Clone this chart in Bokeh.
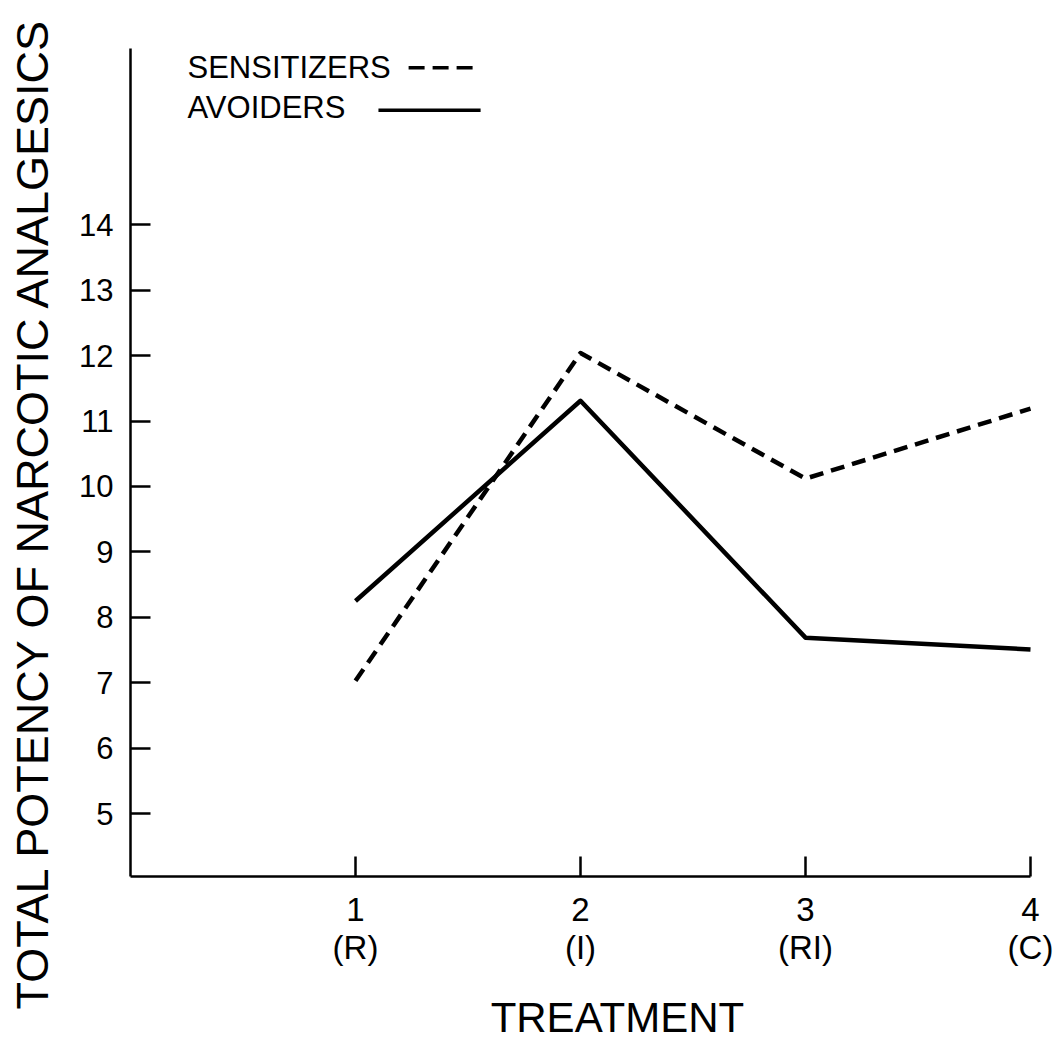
from bokeh.plotting import figure
from bokeh.models import Range1d, FixedTicker, Label
from bokeh.embed import file_html
from bokeh.resources import INLINE
import math

# ---- data ----
treatments = [1, 2, 3, 4]
treatment_labels = ["1\n(R)", "2\n(I)", "3\n(RI)", "4\n(C)"]
sensitizers = [7.03, 12.04, 10.12, 11.19]
avoiders = [8.25, 11.31, 7.69, 7.51]
y_ticks = [5, 6, 7, 8, 9, 10, 11, 12, 13, 14]

FONT = "Liberation Sans"

# scales: x = 0 at 130px, 225 px per treatment; y = 4.04 at 876px, 65.44 px per unit
X0, XS = 130.0, 225.0
Y0PX, Y0, YS = 876.0, 4.04, 65.44
W, H = 1058, 1040

p = figure(output_backend="svg", toolbar_location=None,
           width=W, height=H, min_border=0,
           x_range=Range1d(-X0 / XS, (W - X0) / XS),
           y_range=Range1d(Y0 - (H - Y0PX) / YS, Y0 + Y0PX / YS))
p.outline_line_color = None
p.background_fill_color = "white"
p.border_fill_color = "white"
p.grid.visible = False

# axes
for ax in (p.xaxis[0], p.yaxis[0]):
    ax.axis_line_color = "black"
    ax.axis_line_width = 2.5
    ax.major_tick_line_color = "black"
    ax.major_tick_line_width = 2.5
    ax.major_tick_in = 20
    ax.major_tick_out = 0
    ax.minor_tick_line_color = None
    ax.major_label_text_font = FONT
    ax.major_label_text_color = "black"

p.xaxis.fixed_location = 4.04
p.xaxis.bounds = (0, 4)
p.xaxis.ticker = FixedTicker(ticks=treatments)
p.xaxis.major_label_overrides = {t: lab for t, lab in zip(treatments, treatment_labels)}
p.xaxis.major_label_text_font_size = "33px"
p.xaxis.major_label_standoff = 14
p.xaxis.major_label_text_line_height = 1.05

p.yaxis.fixed_location = 0
p.yaxis.bounds = (4.04, 16.7)
p.yaxis.ticker = FixedTicker(ticks=y_ticks)
p.yaxis.major_label_text_font_size = "31px"
p.yaxis.major_label_standoff = 17

# data lines
p.line(treatments, sensitizers, line_color="black", line_width=4.5,
       line_dash="14 8", line_join="round")
p.line(treatments, avoiders, line_color="black", line_width=4.5,
       line_join="round")

# legend (text then sample line, like the original)
p.add_layout(Label(x=0.2533, y=16.40, text="SENSITIZERS", text_font=FONT,
                   text_font_size="31px", text_baseline="middle", text_align="left",
                   text_color="black"))
p.add_layout(Label(x=0.2533, y=15.79, text="AVOIDERS", text_font=FONT,
                   text_font_size="31px", text_baseline="middle", text_align="left",
                   text_color="black"))
p.line([1.236, 1.556], [16.40, 16.40], line_color="black", line_width=3.5, line_dash="16 8")
p.line([1.102, 1.556], [15.75, 15.75], line_color="black", line_width=3.5)

# axis titles
p.add_layout(Label(x=2.164, y=1.884, text="TREATMENT", text_font=FONT,
                   text_font_size="42px", text_baseline="middle", text_align="center",
                   text_color="black"))
p.add_layout(Label(x=-0.4356, y=9.60, text="TOTAL POTENCY OF NARCOTIC ANALGESICS",
                   text_font=FONT, text_font_size="45px", angle=math.pi / 2,
                   text_baseline="middle", text_align="center", text_color="black"))

open("out.html", "w").write(file_html(p, INLINE))
